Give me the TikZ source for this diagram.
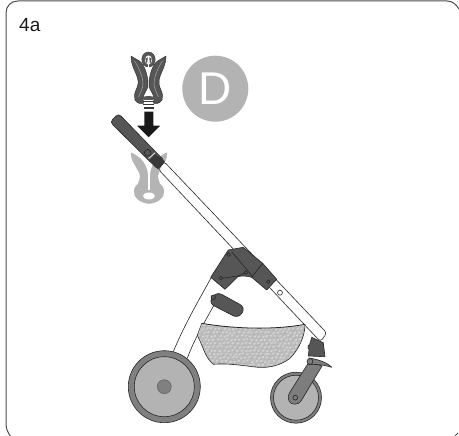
\documentclass[tikz,border=0pt]{standalone}
\usepackage{fontspec}
\setmainfont{Liberation Sans}
\definecolor{dk}{HTML}{565656}
\definecolor{dkk}{HTML}{383838}
\definecolor{tire}{HTML}{808080}
\definecolor{rim}{HTML}{B3B3B3}
\definecolor{gc}{HTML}{B4B4B4}
\definecolor{fork}{HTML}{7D7D7D}
\definecolor{bask}{HTML}{BCBCBC}
\tikzset{
  ln/.style={draw=black!85,line width=0.6pt},
  part/.style={ln,fill=dk,line join=round},
  pin/.style={draw=black!85,line width=0.6pt,fill=dk},
}
\begin{document}
\begin{tikzpicture}[x=1pt,y=-1pt]
\useasboundingbox (0,0) rectangle (459,436);
% frame
\draw[draw=black!70,line width=1pt] (11,437) .. controls (8,433) and (6,429) .. (6,424) -- (6,13)
  .. controls (6,6) and (11,1) .. (18,1) -- (447,1) .. controls (452,1) and (456,4) .. (459,9);
\draw[draw=black!70,line width=1pt] (455,436) -- (458,433);
\node[anchor=base west,inner sep=0pt,font=\fontsize{19}{19}\selectfont,text=black!90] (lbl) at (19,32) {4a};
% D badge
\node[circle,fill=rim,minimum size=66pt,inner sep=0pt] (badge) at (215.3,88.7) {};
\node[text=white,inner sep=0pt,font=\fontsize{46}{46}\selectfont] (dd) at (215.3,88.7) {D};
% dark clip
\fill[dk,draw=black!80,line width=0.4pt] (148.5,59.5) ellipse [x radius=6.7,y radius=7.5];
\fill[white] (148.5,60) ellipse [x radius=3.6,y radius=4.6];
\fill[white] (147.6,62) rectangle (149.4,72);
\fill[dk] (146.9,65) -- (145.3,58.5) -- (147.8,57.5) -- cycle;
\fill[dk] (150.1,65) -- (151.7,58.5) -- (149.2,57.5) -- cycle;
\foreach \s in {1,-1}{
\begin{scope}[shift={(148.5,0)},xscale=\s]
\fill[dk,draw=black!80,line width=0.5pt,line join=round] (-17.5,56)
  .. controls (-17.5,64) and (-14,70) .. (-12,75)
  .. controls (-10.5,79) and (-10,82) .. (-10.5,84)
  .. controls (-11,88) and (-13.5,91) .. (-14,95)
  -- (-13.5,100) .. controls (-11,103.5) and (-8,104) .. (-5,103.5)
  -- (-5.5,98) .. controls (-5,94) and (-2,91) .. (-0.7,87)
  -- (-0.7,80) .. controls (-1.5,74) and (-3.5,67) .. (-7,63)
  .. controls (-9,60.5) and (-13,59) .. (-17.5,56) -- cycle;
\draw[black!35,line width=0.5pt] (-14,61) .. controls (-9,68) and (-5.5,78) .. (-5.5,84) .. controls (-5.5,88) and (-8,92) .. (-10,97);
\end{scope}}
\fill[dk] (142,97.5) .. controls (145,95.5) and (152,95.5) .. (155,97.5) -- (153,100) -- (144,100) -- cycle;
\fill[dkk] (143,101) rectangle (154,102);
\fill[dkk] (143,104) rectangle (154,105);
\fill[dkk] (144,107.3) rectangle (153.5,109.3);
% arrow
\fill[black!90] (144.3,111.7) -- (153.3,111.7) -- (153.3,125.7) -- (160.2,125.7) -- (148.7,137.3) -- (137.2,125.7) -- (144.3,125.7) -- cycle;
% grey clip
\foreach \s in {1,-1}{
\begin{scope}[shift={(149,0)},xscale=\s]
\fill[gc,draw=black!30,line width=0.3pt,line join=round] (-18,152.7)
  .. controls (-18,158) and (-16,162) .. (-14,165)
  .. controls (-12,169) and (-9.5,172) .. (-9,175)
  .. controls (-8.5,179) and (-10,182) .. (-11,184)
  .. controls (-13,186) and (-15,188) .. (-15,191)
  .. controls (-15.5,198) and (-8,203) .. (0,203.5) -- (0,190)
  -- (-1,187) -- (-1.2,175)
  .. controls (-1.5,171) and (-2.5,168) .. (-4,165)
  .. controls (-6,161) and (-9,157) .. (-18,152.7) -- cycle;
\end{scope}}
\fill[white] (149,196) ellipse [x radius=6,y radius=3.5];
\fill[white] (148.2,174) rectangle (149.8,190);
% rear frame tube
\path[fill=white] (173.3,351.7) -- (211,278) -- (225,285) -- (187.3,358.3) -- cycle;
\draw[ln] (173.3,351.7) .. controls (183,328) and (196,305) .. (211,278);
\draw[ln] (187.3,358.3) .. controls (194,340) and (203,325) .. (214,305);
% main tube
\draw[ln,fill=white,rounded corners=3pt] (164,161.5) -- (326.8,333) -- (320.5,341.7) -- (158.5,169.5) -- cycle;
% basket
\begin{scope}
\path[clip] (201.7,323.3) .. controls (235,329) and (275,330) .. (305,324.3)
  .. controls (305,335) and (300,348) .. (290,358.3)
  .. controls (280,366) and (268,368) .. (258,367.3)
  .. controls (245,366) and (230,363) .. (213.3,364.3)
  .. controls (206,358) and (204,350) .. (201.7,345)
  .. controls (200,340) and (198,338) .. (197.3,335) -- cycle;
\fill[bask] (190,315) rectangle (310,372);
\pgfmathsetseed{42}
\foreach \i in {0,...,27}{\foreach \j in {0,...,15}{
  \pgfmathsetmacro\px{192+\i*4.3+mod(\j,2)*2.1+rand*0.8}
  \pgfmathsetmacro\py{318+\j*3.6+rand*0.8}
  \fill[white,opacity=0.4] (\px,\py) ellipse [x radius=1.7,y radius=0.9,rotate=40];
  \fill[black!50,opacity=0.6] (\px+2.1,\py+1.8) circle [radius=0.35];
}}
\end{scope}
\draw[ln] (197.3,335) .. controls (198,338) and (200,340) .. (201.7,345)
  .. controls (204,350) and (206,358) .. (213.3,364.3)
  .. controls (230,363) and (245,366) .. (258,367.3)
  .. controls (268,368) and (280,366) .. (290,358.3)
  .. controls (300,348) and (305,335) .. (305,324.3);
\draw[draw=black!85,line width=0.8pt] (201.7,323.3) .. controls (235,329) and (275,330) .. (305,324.3);
\draw[draw=black!85,line width=0.4pt] (201.7,323.3) -- (197.3,335);
% handle
\draw[part,rounded corners=3.5pt] (110,122) -- (118.5,113.5) -- (165,161.5) -- (158,169.5) -- cycle;
\fill[dkk] (155.5,154.5) -- (165,161.5) -- (158,169.5) -- (149.5,160.5) -- cycle;
\draw[white,line width=0.6pt] (148.6,158.6) -- (155.2,152.6);
\draw[pin] (147.7,152.7) circle [radius=3.4];
% hinge
\fill[dk] (228.3,250) -- (243.3,247.3) -- (262.7,263.3) -- (276.7,279.3) -- (266.7,290) -- (251.7,277.3)
  .. controls (247,276) and (242,275.5) .. (237.7,276.7) -- (225,289.3) -- (210.7,277.3) -- cycle;
\draw[part,fill=none] (228.3,250) -- (243.3,247.3) -- (262.7,263.3) -- (276.7,279.3) -- (266.7,290) -- (251.7,277.3)
  .. controls (247,276) and (242,275.5) .. (237.7,276.7) -- (225,289.3) -- (210.7,277.3) -- cycle;
\draw[ln] (262.7,263.3) -- (251.7,277.3);
\draw[ln] (231.7,251.7) -- (252.7,276.7);
\draw[ln] (221.7,278.3) -- (237.7,276) .. controls (240,275.5) and (243,274) .. (245.7,272.7);
\draw[pin] (228.7,254.7) circle [radius=1.8];
\draw[pin] (221,278) circle [radius=1.8];
\draw[pin] (245.7,272.7) circle [radius=1.8];
\draw[pin] (268.3,281.7) circle [radius=1.8];
\draw[ln,fill=white] (280,292.7) circle [radius=2.5];
% lever
\draw[part,rounded corners=6pt] (208.5,303) -- (216.5,291.5) -- (245.5,307.5) -- (238.5,318.5) -- cycle;
\draw[pin] (213.3,297.3) circle [radius=2.3];
% rear wheel
\draw[ln,fill=tire] (164.3,386.7) circle [radius=36];
\draw[ln,fill=rim] (164.3,386.7) circle [radius=30];
\draw[ln,fill=tire,draw=black!60] (164.3,386.7) circle [radius=7];
% front wheel
\draw[ln,fill=tire] (296,397.7) circle [radius=25.5];
\draw[ln,fill=rim] (296,397.7) circle [radius=22.5];
% fork
\draw[ln,fill=dk] (311.7,337.3) -- (323.3,342.7) -- (325,356.7) -- (308.3,356) -- (309,349.5) -- (308,348) -- (308.3,345.5) -- (309.5,345) -- cycle;
\draw[ln,fill=fork,line join=round] (309,362) -- (322,366) -- (301,401) .. controls (298,405.5) and (291,405) .. (289,401)
  .. controls (287.5,397) and (288.5,394) .. (290,392) -- cycle;
\draw[ln,fill=fork,line join=round] (309,358) .. controls (316,359) and (327,362) .. (331.7,367.3)
  .. controls (326,365.5) and (318,364) .. (309,364.5) -- cycle;
\draw[ln,fill=fork] (310,361.5) circle [radius=3];
\draw[ln,fill=fork] (295.3,397.7) circle [radius=2.4];
\end{tikzpicture}
\end{document}
